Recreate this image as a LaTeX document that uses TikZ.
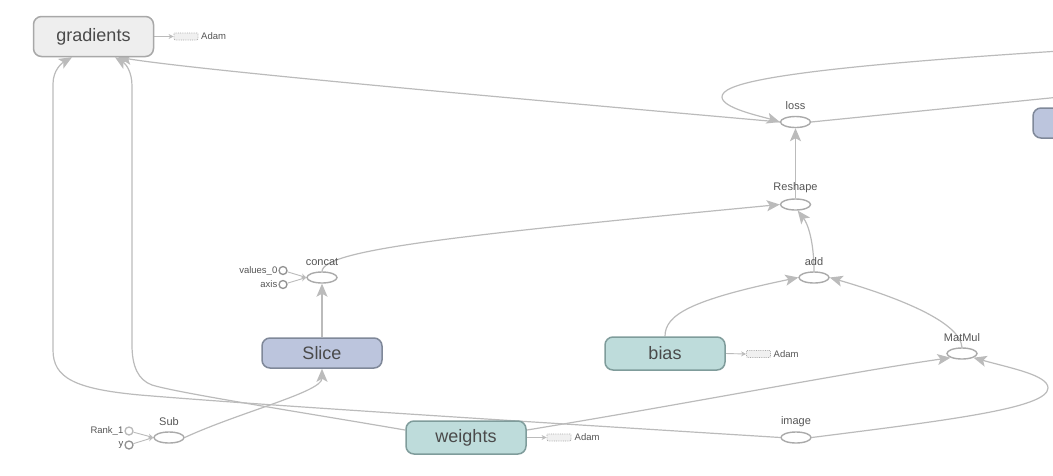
\documentclass[tikz,border=0pt]{standalone}
\usepackage{fontspec}
\setmainfont{Liberation Sans}
\usetikzlibrary{shapes.geometric,arrows.meta,backgrounds}
\definecolor{edgec}{HTML}{BBBBBB}
\definecolor{txtbig}{HTML}{4A4A4A}
\definecolor{txtsmall}{HTML}{555555}
\definecolor{gradfill}{HTML}{EEEEEE}
\definecolor{graddraw}{HTML}{A8A8A8}
\definecolor{bluefill}{HTML}{BCC5DD}
\definecolor{bluedraw}{HTML}{7F8899}
\definecolor{tealfill}{HTML}{BEDCDB}
\definecolor{tealdraw}{HTML}{7F9C9B}
\definecolor{elldraw}{HTML}{AAAAAA}
\definecolor{auxfill}{HTML}{F0F0F0}
\tikzset{
  opbox/.style={rectangle, rounded corners=8pt, line width=1.5pt, minimum width=120pt,
    minimum height=33pt, inner sep=0pt, font=\fontsize{18}{20}\selectfont, text=txtbig},
  gradbox/.style={opbox, fill=gradfill, draw=graddraw, minimum height=40pt},
  bluebox/.style={opbox, fill=bluefill, draw=bluedraw},
  tealbox/.style={opbox, fill=tealfill, draw=tealdraw},
  opell/.style={ellipse, minimum width=30pt, minimum height=11pt, inner sep=0pt,
    draw=elldraw, line width=1.4pt, fill=white},
  oplab/.style={inner sep=0pt, font=\fontsize{11}{12}\selectfont, text=txtsmall},
  constc/.style={circle, minimum size=8pt, inner sep=0pt, line width=1.3pt, fill=white},
  smalllab/.style={inner sep=0pt, font=\fontsize{9.5}{10}\selectfont, text=txtsmall},
  auxbox/.style={rectangle, minimum width=24pt, minimum height=7pt, inner sep=0pt,
    densely dotted, line width=0.8pt, draw=elldraw, fill=auxfill, rounded corners=1pt},
  dep/.style={draw=edgec, line width=1.2pt, -{Stealth[length=13pt,width=11pt,inset=3pt]}},
  plainedge/.style={draw=edgec, line width=1.2pt},
  tinyarr/.style={draw=edgec, line width=0.9pt, -{Stealth[length=5pt,width=5pt]}},
}
\begin{document}
\begin{tikzpicture}[x=1pt,y=-1pt]
\useasboundingbox (0,0) rectangle (1053,475);
\clip (0,0) rectangle (1053,475);
% nodes
\node[gradbox] (gradients) at (93.5,36.5) {gradients};
\node[auxbox] (gradAdam) at (186,36.5) {};
\node[smalllab, anchor=west] (gradAdamLab) at (201,36.5) {Adam};

\node[opell] (loss) at (795.5,122) {};
\node[oplab] (lossLab) at (795.5,106) {loss};
\node[opell] (Reshape) at (795.5,204.5) {};
\node[oplab] (ReshapeLab) at (795.5,188) {Reshape};
\node[opell] (concat) at (322,277.5) {};
\node[oplab] (concatLab) at (322,261.5) {concat};
\node[constc, draw=gray!85] (values0) at (283,270.5) {};
\node[smalllab, anchor=east] (values0Lab) at (277.5,270.5) {values\_0};
\node[constc, draw=gray!85] (axis) at (283,284.5) {};
\node[smalllab, anchor=east] (axisLab) at (277.5,284.5) {axis};
\node[opell] (add) at (814,277.5) {};
\node[oplab] (addLab) at (814,261.5) {add};
\node[opell] (MatMul) at (962,353.5) {};
\node[oplab] (MatMulLab) at (962,337.5) {MatMul};

\node[bluebox, minimum height=30pt] (Slice) at (322,353) {Slice};
\node[tealbox] (bias) at (665,353.5) {bias};
\node[auxbox] (biasAdam) at (758.5,354) {};
\node[smalllab, anchor=west] (biasAdamLab) at (773.5,354) {Adam};
\node[tealbox] (weights) at (466,437.5) {weights};
\node[auxbox] (weightsAdam) at (559,437.5) {};
\node[smalllab, anchor=west] (weightsAdamLab) at (574.5,437.5) {Adam};

\node[opell] (image) at (796,437.5) {};
\node[oplab] (imageLab) at (796,421.5) {image};
\node[opell] (Sub) at (169,437.5) {};
\node[oplab] (SubLab) at (169,421.5) {Sub};
\node[constc, draw=gray!55] (Rank1) at (129,431) {};
\node[smalllab, anchor=east] (Rank1Lab) at (123.5,431) {Rank\_1};
\node[constc, draw=gray!85] (yc) at (129,445) {};
\node[smalllab, anchor=east] (ycLab) at (123.5,445) {y};

\node[bluebox, minimum height=30pt] (rightbox) at (1093,123) {};

\coordinate (offA) at (1060,51);
\coordinate (offB) at (1060,97);

\begin{pgfonlayer}{background}
\clip (0,0) rectangle (1053,475);
\draw[dep] (loss.west) .. controls (600,106) and (210,72) .. (gradients.-40);
\draw[dep] (offA) .. controls (760,70) and (722,85) .. (722,97)
  .. controls (722,108) and (760,116) .. (loss.west);
\draw[plainedge] (loss.east) -- (offB);
\draw[dep] (Reshape.north) -- (loss.south);
\draw[dep] (concat.north) .. controls (324,250) and (450,236) .. (Reshape.west);
\draw[dep] (add.north) .. controls (814,242) and (808,224) .. (Reshape.-70);
\draw[dep] (bias.north) .. controls (665,315) and (690,300) .. (add.west);
\draw[dep] (MatMul.north) .. controls (960,322) and (900,298) .. (add.east);
\draw[dep] (Slice.north) -- (concat.south);
\draw[tinyarr] (values0) -- (concat.west);
\draw[tinyarr] (axis) -- (concat.west);
\draw[dep] (Sub.east) .. controls (240,412) and (322,392) .. (Slice.south);
\draw[tinyarr] (Rank1) -- (Sub.west);
\draw[tinyarr] (yc) -- (Sub.west);
\draw[dep] (weights.7) .. controls (680,405) and (850,372) .. (MatMul.200);
\draw[dep] (image.east) .. controls (950,420) and (1048,408) .. (1048,388)
  .. controls (1048,375) and (1010,368) .. (MatMul.-20);
\draw[dep] (image.west) .. controls (500,420) and (260,405) .. (140,395)
  .. controls (75,389) and (53,378) .. (53,350) -- (53,84)
  .. controls (53,70) and (62,63) .. (gradients.224);
\draw[dep] (weights.173) .. controls (300,412) and (178,393) .. (152,385)
  .. controls (138,380) and (132,366) .. (132,345) -- (132,86)
  .. controls (132,72) and (126,64) .. (gradients.-44);
\draw[tinyarr] (gradients.east) -- (gradAdam.west);
\draw[tinyarr] (bias.east) -- (biasAdam.west);
\draw[tinyarr] (weights.east) -- (weightsAdam.west);
\end{pgfonlayer}
\end{tikzpicture}
\end{document}
